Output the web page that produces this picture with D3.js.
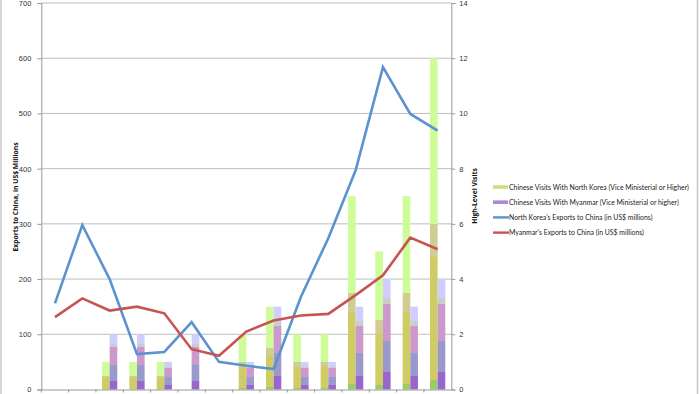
<!DOCTYPE html>
<html>
<head>
<meta charset="utf-8">
<script src="https://cdn.jsdelivr.net/npm/d3@7"></script>
<style>
  body { margin: 0; background: #fff; }
  svg { display: block; font-family: "Open Sans", "DejaVu Sans", sans-serif; }
  .tick text { fill: #333; font-size: 7.5px; }
</style>
</head>
<body>
<svg id="chart" width="700" height="394"></svg>
<script>
const margin = { left: 41.3, right: 248.7, top: 3, bottom: 4.5 };
const W = 700, H = 394;
const width = W - margin.left - margin.right;
const height = H - margin.top - margin.bottom;

// 15 periods, unlabeled on the original chart
const periods = [1, 2, 3, 4, 5, 6, 7, 8, 9, 10, 11, 12, 13, 14, 15];
const nkExports = [156, 298, 200, 64, 68, 122, 50, 43, 37, 168, 274, 397, 584, 499, 469];
const mmExports = [131, 165, 143, 150, 138, 73, 61, 105, 125, 134, 137, 171, 207, 275, 254];
const nkVisits = [0, 0, 1, 1, 1, 0, 0, 2, 3, 2, 2, 7, 5, 7, 12];
const mmVisits = [0, 0, 2, 2, 1, 2, 0, 1, 3, 1, 1, 3, 4, 3, 4];
const leftTicks = [0, 100, 200, 300, 400, 500, 600, 700];
const rightTicks = [0, 2, 4, 6, 8, 10, 12, 14];
const legendLabels = [
  'Chinese Visits With North Korea (Vice Ministerial or Higher)',
  'Chinese Visits With Myanmar (Vice Ministerial or higher)',
  "North Korea's Exports to China (in US$ millions)",
  "Myanmar's Exports to China (in US$ millions)"
];

const svg = d3.select('#chart');

// chart frame edges
svg.append('line').attr('x1', 1).attr('x2', 1).attr('y1', 0).attr('y2', H)
  .attr('stroke', '#c8c8c8').attr('stroke-width', 1.5);
svg.append('line').attr('x1', 697.5).attr('x2', 697.5).attr('y1', 0).attr('y2', H)
  .attr('stroke', '#c8c8c8').attr('stroke-width', 1.5);

// gradients for the bars
const defs = svg.append('defs');
function gradient(id, stops) {
  const g = defs.append('linearGradient').attr('id', id)
    .attr('x1', 0).attr('y1', 0).attr('x2', 0).attr('y2', 1);
  stops.forEach(s => {
    g.append('stop').attr('offset', s[0]).attr('stop-color', s[2]);
    g.append('stop').attr('offset', s[1]).attr('stop-color', s[2]);
  });
}
gradient('gradNK', [[0, 0.5, '#cdfc98'], [0.5, 0.6, '#d0cc92'], [0.6, 0.97, '#cfcc66'], [0.97, 1, '#99cc66']]);
gradient('gradMM', [[0, 0.17, '#d0ceff'], [0.17, 0.23, '#cccccc'], [0.23, 0.56, '#cc99cc'], [0.56, 0.84, '#9999cc'], [0.84, 1, '#9966cc']]);

const g = svg.append('g').attr('transform', 'translate(' + margin.left + ',' + margin.top + ')');

const x = d3.scaleBand().domain(periods).range([0, width]);
const y = d3.scaleLinear().domain([0, 700]).range([height, 0]);
const y2 = d3.scaleLinear().domain([0, 14]).range([height, 0]);

// gridlines
g.selectAll('line.grid').data(leftTicks.slice(1)).enter().append('line')
  .attr('class', 'grid')
  .attr('x1', 0).attr('x2', width)
  .attr('y1', d => y(d)).attr('y2', d => y(d))
  .attr('stroke', '#bdbdbd').attr('stroke-width', 1);

// bars
const barW = x.bandwidth() * 0.28;
g.selectAll('rect.nk').data(periods).enter().append('rect')
  .attr('class', 'nk')
  .attr('x', d => x(d) + x.bandwidth() / 2 - barW)
  .attr('width', barW)
  .attr('y', (d, i) => y2(nkVisits[i]))
  .attr('height', (d, i) => height - y2(nkVisits[i]))
  .attr('fill', 'url(#gradNK)');
g.selectAll('rect.mm').data(periods).enter().append('rect')
  .attr('class', 'mm')
  .attr('x', d => x(d) + x.bandwidth() / 2)
  .attr('width', barW)
  .attr('y', (d, i) => y2(mmVisits[i]))
  .attr('height', (d, i) => height - y2(mmVisits[i]))
  .attr('fill', 'url(#gradMM)');

// lines
const line = d3.line()
  .x((d, i) => x(periods[i]) + x.bandwidth() / 2)
  .y(d => y(d));
g.append('path').attr('d', line(nkExports))
  .attr('fill', 'none').attr('stroke', '#5b93cf').attr('stroke-width', 2.6);
g.append('path').attr('d', line(mmExports))
  .attr('fill', 'none').attr('stroke', '#c65552').attr('stroke-width', 2.6);

// axes
g.append('g')
  .call(d3.axisLeft(y).tickValues(leftTicks).tickSize(4).tickPadding(6))
  .call(a => a.selectAll('line, path').attr('stroke', '#999'));
g.append('g')
  .attr('transform', 'translate(' + width + ',0)')
  .call(d3.axisRight(y2).tickValues(rightTicks).tickSize(4).tickPadding(4))
  .call(a => a.selectAll('line, path').attr('stroke', '#999'));
g.append('g')
  .attr('transform', 'translate(0,' + height + ')')
  .call(d3.axisBottom(x).tickValues([]).tickSizeOuter(0))
  .call(a => a.select('path').attr('stroke', '#999'));
// category boundary ticks
g.selectAll('line.xt').data(periods).enter().append('line')
  .attr('class', 'xt')
  .attr('x1', d => x(d)).attr('x2', d => x(d))
  .attr('y1', height).attr('y2', height + 3)
  .attr('stroke', '#999');

// axis titles
svg.append('text')
  .attr('transform', 'translate(18,197) rotate(-90)')
  .attr('text-anchor', 'middle')
  .attr('font-size', 6.8).attr('font-weight', 'bold').attr('fill', '#111')
  .text('Exports to China, in US$ Millions');
svg.append('text')
  .attr('transform', 'translate(477,196) rotate(-90)')
  .attr('text-anchor', 'middle')
  .attr('font-size', 6.8).attr('font-weight', 'bold').attr('fill', '#111')
  .text('High-Level Visits');

// legend
const legend = svg.append('g').attr('transform', 'translate(493,187)');
const rows = legend.selectAll('g').data(legendLabels).enter().append('g')
  .attr('transform', (d, i) => 'translate(0,' + (i * 15.2) + ')');
rows.each(function(d, i) {
  const r = d3.select(this);
  if (i < 2) {
    r.append('rect').attr('x', 0).attr('y', -1.8).attr('width', 15).attr('height', 3.6)
      .attr('fill', i === 0 ? '#c9e07e' : '#a98ad6');
  } else {
    r.append('line').attr('x1', 0).attr('x2', 16).attr('y1', 0).attr('y2', 0)
      .attr('stroke', i === 2 ? '#5b93cf' : '#c65552').attr('stroke-width', 2.4);
  }
  r.append('text').attr('class', 'leg').attr('x', 16).attr('y', 2.6)
    .attr('font-family', 'Lato, "Open Sans", sans-serif')
    .attr('font-size', 7.5).attr('fill', '#222')
    .text(d);
});
// fit legend text: the longest entry spans about 180px in the original
const longest = legend.select('text.leg').node().getComputedTextLength();
legend.selectAll('text.leg').attr('font-size', 7.5 * 180 / longest);
</script>
</body>
</html>
